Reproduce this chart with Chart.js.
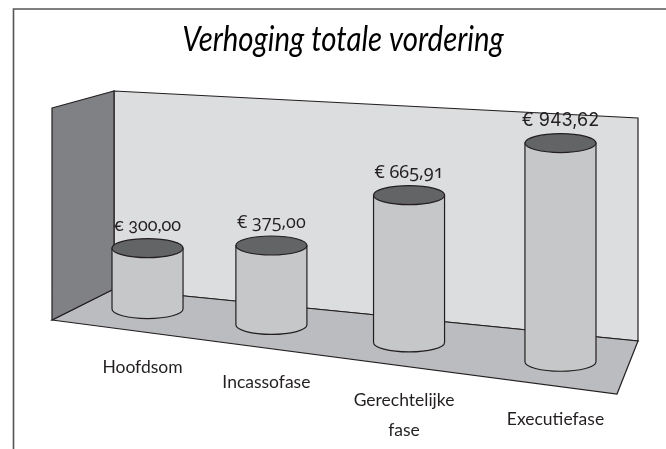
<!DOCTYPE html>
<html>
<head>
<meta charset="utf-8">
<title>Verhoging totale vordering</title>
<script src="https://cdn.jsdelivr.net/npm/chart.js@4"></script>
<style>
  html, body { margin: 0; padding: 0; background: #fff; }
  #wrap { position: relative; width: 666px; height: 449px; overflow: hidden; }
  canvas { display: block; }
  .amount {
      position: absolute;
      transform: translate(-50%, -50%);
      white-space: nowrap;
      color: #231f20;
      font-size: 18px;
      font-variant-numeric: oldstyle-nums;
      font-feature-settings: "onum" 1;
  }
</style>
</head>
<body>
<div id="wrap">
<canvas id="myChart" width="666" height="449"></canvas>
</div>
<script>
const chartTitle = 'Verhoging totale vordering'
const categories = ['Hoofdsom', 'Incassofase', ['Gerechtelijke', 'fase'], 'Executiefase']
const amounts = [300.00, 375.00, 665.91, 943.62]
const amountLabels = ['€ 300,00', '€ 375,00', '€ 665,91', '€ 943,62']
const testFonts = ['Lato', 'Open Sans', 'Noto Sans', 'Inter']

const LINE = '#231f20'
const TEXT = '#231f20'

// the picture is a fake 3d room, these turn flat bar positions into the perspective of the floor
function warpX(x) {
    const t = (x - 147.5) / 413
    return x - 62 * t * (1 - t)
}
function floorY(x, base) {
    return base + 0.1277 * (x - 347)
}
function depthScale(x) {
    return 1 + (x - 392) * 0.000317
}

function poly(ctx, pts, fill) {
    ctx.beginPath()
    pts.forEach((p, i) => i ? ctx.lineTo(p[0], p[1]) : ctx.moveTo(p[0], p[1]))
    ctx.closePath()
    ctx.fillStyle = fill
    ctx.fill()
    ctx.stroke()
}

const roomPlugin = {
    id: 'room',
    beforeDatasetsDraw(chart) {
        const ctx = chart.ctx
        ctx.save()
        ctx.lineJoin = 'miter'
        ctx.lineWidth = 1.2

        // frame round the figure, only top and left
        ctx.strokeStyle = '#555'
        ctx.lineWidth = 1.6
        ctx.beginPath()
        ctx.moveTo(666, 9)
        ctx.lineTo(13.5, 9)
        ctx.lineTo(13.5, 449)
        ctx.stroke()

        ctx.lineWidth = 1.2
        ctx.strokeStyle = LINE
        poly(ctx, [[114, 91], [638, 118], [638, 341], [114, 289]], '#dcddde')
        poly(ctx, [[52, 320], [114, 289], [638, 341], [617, 394]], '#bbbcbf')
        poly(ctx, [[52, 108], [114, 91], [114, 289], [52, 320]], '#808184')
        ctx.restore()
    }
}

const cylinderPlugin = {
    id: 'cylinders',
    afterDatasetsDraw(chart) {
        const ctx = chart.ctx
        const yScale = chart.scales.y
        const zero = yScale.getPixelForValue(0)
        const ry = 9.5
        const wrap = document.getElementById('wrap')
        ctx.save()
        chart.getDatasetMeta(0).data.forEach((bar, i) => {
            const cx = warpX(bar.x)
            const rx = bar.width / 2
            const bottom = floorY(cx, bar.base)
            const top = bottom - (zero - bar.y) * depthScale(cx)

            ctx.lineWidth = 1.2
            ctx.strokeStyle = LINE

            // body
            ctx.beginPath()
            ctx.moveTo(cx - rx, top)
            ctx.lineTo(cx - rx, bottom)
            ctx.ellipse(cx, bottom, rx, ry, 0, Math.PI, 0, true)
            ctx.lineTo(cx + rx, top)
            ctx.closePath()
            ctx.fillStyle = '#c6c7c9'
            ctx.fill()
            ctx.stroke()

            // lid
            ctx.beginPath()
            ctx.ellipse(cx, top, rx, ry, 0, 0, Math.PI * 2)
            ctx.fillStyle = '#636466'
            ctx.fill()
            ctx.stroke()

            // amount above the lid, html because canvas text has no old style figures
            const div = document.createElement('div')
            div.className = 'amount'
            div.textContent = amountLabels[i]
            div.style.fontFamily = testFonts[i]
            div.style.left = cx + 'px'
            div.style.top = (top - 24) + 'px'
            wrap.appendChild(div)

            // category under the floor
            ctx.fillStyle = TEXT
            ctx.textAlign = 'center'
            ctx.textBaseline = 'middle'
            ctx.font = '17.5px Lato, sans-serif'
            const lines = [].concat(categories[i])
            lines.forEach((line, l) => {
                ctx.fillText(line, cx - 5, bottom + 58 + l * 30)
            })
        })

        // title is narrower than any installed italic, so squeeze it
        ctx.fillStyle = '#000'
        ctx.font = 'italic 34px Lato, sans-serif'
        ctx.textAlign = 'center'
        ctx.textBaseline = 'middle'
        ctx.translate(343, 40)
        ctx.scale(0.865, 1)
        ctx.fillText(chartTitle, 0, 0)
        ctx.restore()
    }
}

new Chart(document.getElementById('myChart').getContext('2d'), {
    type: 'bar',
    data: {
        labels: categories,
        datasets: [
            {
                label: 'Verhoging',
                data: amounts,
                backgroundColor: 'transparent',
                categoryPercentage: 1,
                barPercentage: 0.516
            }
        ]
    },
    options: {
        responsive: false,
        animation: false,
        layout: { padding: { left: 78.7, right: 36.7, top: 114.5, bottom: 114.5 } },
        plugins: {
            legend: { display: false },
            title: { display: false },
            tooltip: { enabled: false }
        },
        scales: {
            x: { display: false },
            y: { display: false, min: 0, max: 1000 }
        }
    },
    plugins: [roomPlugin, cylinderPlugin]
})
</script>
</body>
</html>
